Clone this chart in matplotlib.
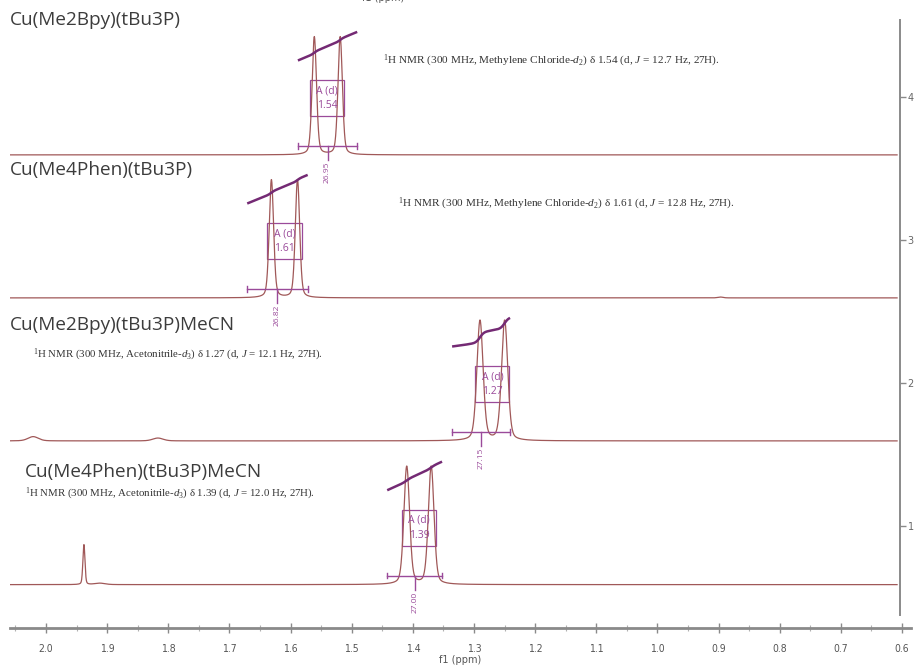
import numpy as np
import matplotlib
matplotlib.use("Agg")
import matplotlib.pyplot as plt
from matplotlib.patches import Rectangle
from matplotlib.ticker import MultipleLocator, FixedLocator

# ---- data -------------------------------------------------------------
compounds = ["Cu(Me2Bpy)(tBu3P)", "Cu(Me4Phen)(tBu3P)",
             "Cu(Me2Bpy)(tBu3P)MeCN", "Cu(Me4Phen)(tBu3P)MeCN"]
shifts = [1.54, 1.61, 1.27, 1.39]            # ppm, doublet centre
j_couplings = [12.7, 12.8, 12.1, 12.0]       # Hz
integrals = [26.95, 26.82, 27.15, 27.00]
solvents = ["Methylene Chloride", "Methylene Chloride",
            "Acetonitrile", "Acetonitrile"]
solvent_d = ["2", "2", "3", "3"]
spectrometer_mhz = 300.0
peak_heights = [0.825, 0.825, 0.84, 0.825]
line_widths = [0.0085, 0.0085, 0.012, 0.011]  # ppm FWHM
# integration limits (ppm)
int_start = [1.588, 1.671, 1.336, 1.442]
int_end = [1.491, 1.572, 1.241, 1.352]
# minor signals: (ppm, height, fwhm)
extra_peaks = [[], [(0.897, 0.006, 0.01)],
               [(2.021, 0.030, 0.02), (1.817, 0.020, 0.02)],
               [(1.938, 0.280, 0.004), (1.912, 0.010, 0.02)]]
offsets = [3.595, 2.595, 1.595, 0.59]
y_ticks = [1, 2, 3, 4]
x_ticks = [2.0, 1.9, 1.8, 1.7, 1.6, 1.5, 1.4, 1.3, 1.2, 1.1, 1.0, 0.9, 0.8, 0.7, 0.6]

# ---- style ------------------------------------------------------------
SPEC = "#a05858"
PURPLE = "#742a74"
BOX = "#9a4a9a"
AXIS = "#8a8a8a"
W, H = 914, 666

plt.rcParams["mathtext.fontset"] = "custom"
plt.rcParams["mathtext.rm"] = "Liberation Serif"
plt.rcParams["mathtext.it"] = "Liberation Serif:italic"


def pseudo_voigt(x, c, h, w, eta=0.3):
    g = np.exp(-4 * np.log(2) * ((x - c) / w) ** 2)
    l = 1.0 / (1.0 + 4 * ((x - c) / w) ** 2)
    return h * ((1 - eta) * g + eta * l)


fig = plt.figure(figsize=(W / 100, H / 100), dpi=100)
ax = fig.add_axes([10 / W, 38 / H, 901 / W, 628 / H])
ax.set_xlim(2.0589, 0.5852)
ax.set_ylim(0.2867, 4.678)

ppm = np.linspace(2.0585, 0.608, 6000)

for i in range(4):
    off = offsets[i]
    half = j_couplings[i] / spectrometer_mhz / 2
    y = (pseudo_voigt(ppm, shifts[i] + half, peak_heights[i], line_widths[i]) +
         pseudo_voigt(ppm, shifts[i] - half, peak_heights[i], line_widths[i]))
    for c, h, w in extra_peaks[i]:
        y = y + pseudo_voigt(ppm, c, h, w)
    ax.plot(ppm, y + off, color=SPEC, lw=0.9)

    # integral curve
    a, b = int_start[i], int_end[i]
    m = (ppm <= a) & (ppm >= b)
    seg = y[m]
    cum = np.cumsum(seg)
    cum = (cum - cum[0]) / (cum[-1] - cum[0])
    lin = np.linspace(0, 1, seg.size)
    mix = 0.75 if i == 2 else 0.15
    curve = 0.66 + 0.20 * (mix * cum + (1 - mix) * lin)
    ax.plot(ppm[m], curve + off, color=PURPLE, lw=1.8, solid_capstyle="butt")

    # integration bracket and value
    yb = off + 0.063
    ax.plot([a, b], [yb, yb], color=BOX, lw=1.0)
    ax.plot([a, a], [yb - 0.02, yb + 0.02], color=BOX, lw=1.0)
    ax.plot([b, b], [yb - 0.02, yb + 0.02], color=BOX, lw=1.0)
    mid = (a + b) / 2
    ax.plot([mid, mid], [yb, off - 0.035], color=BOX, lw=1.0)
    ax.text(mid, off - 0.05, f"{integrals[i]:.2f}", rotation=90, ha="center",
            va="top", fontsize=6, color=BOX, family="Open Sans")

    # multiplet box
    bw = 0.056
    ax.add_patch(Rectangle((shifts[i] - bw / 2, off + 0.27), bw, 0.255,
                           fill=False, ec=BOX, lw=0.9))
    ax.text(shifts[i], off + 0.45, "A (d)", ha="center", va="center",
            fontsize=7.5, color=BOX, family="Open Sans")
    ax.text(shifts[i], off + 0.345, f"{shifts[i]:.2f}", ha="center", va="center",
            fontsize=7.5, color=BOX, family="Open Sans")

# ---- axes ---------------------------------------------------------------
for s in ("top", "left"):
    ax.spines[s].set_visible(False)
ax.spines["right"].set_position(("data", 0.6032))
ax.spines["right"].set_bounds(0.38, 4.54)
ax.spines["right"].set_color(AXIS)
ax.spines["right"].set_linewidth(1.4)
ax.yaxis.set_ticks_position("right")
ax.yaxis.set_major_locator(FixedLocator(y_ticks))
ax.tick_params(axis="y", direction="out", length=4, width=1, color=AXIS,
               labelsize=7, labelcolor="#666666", pad=1.5)

ax.spines["bottom"].set_color(AXIS)
ax.spines["bottom"].set_linewidth(2.0)
ax.xaxis.set_major_locator(FixedLocator(x_ticks))
ax.xaxis.set_minor_locator(MultipleLocator(0.05))
ax.set_xticklabels([f"{v:.1f}" for v in x_ticks])
ax.tick_params(axis="x", which="major", direction="inout", length=7, width=1,
               color=AXIS, labelsize=7.5, labelcolor="#555555", pad=8)
ax.tick_params(axis="x", which="minor", direction="inout", length=5, width=0.8,
               color="#b0b0b0")
for lab in ax.get_xticklabels():
    lab.set_family(["DejaVu Sans"])
    lab.set_fontstretch("condensed")
ax.set_xlabel("f1 (ppm)", fontsize=7, color="#555555", labelpad=1,
              family="DejaVu Sans")

# ---- labels -------------------------------------------------------------
title_pos = [(10, 20), (10, 170), (10, 325), (25, 472)]
text_pos = [(383, 61), (398, 204), (33, 355), (25, 494)]
text_sizes = [8.1, 8.1, 7.8, 7.8]
for i in range(4):
    tx, ty = title_pos[i]
    fig.text(tx / W, 1 - ty / H, compounds[i], ha="left", va="center",
             fontsize=13.7, color="#3c3c3c", family="Open Sans")
    nx, ny = text_pos[i]
    s = (r"$^{1}$H NMR (300 MHz, " + solvents[i] + r"-$\it{d}_{" + solvent_d[i] +
         r"}$) δ " + f"{shifts[i]:.2f}" + r" (d, $\it{J}$ = " +
         f"{j_couplings[i]:.1f}" + " Hz, 27H).")
    fig.text(nx / W, 1 - ny / H, s, ha="left", va="center", fontsize=text_sizes[i],
             color="#333333", family="Liberation Serif")

fig.text(383 / W, 1 - 1 / H, "f1 (ppm)", ha="center", va="baseline",
         fontsize=7, color="#555555")

fig.savefig("out.png", dpi=100, facecolor="white")
